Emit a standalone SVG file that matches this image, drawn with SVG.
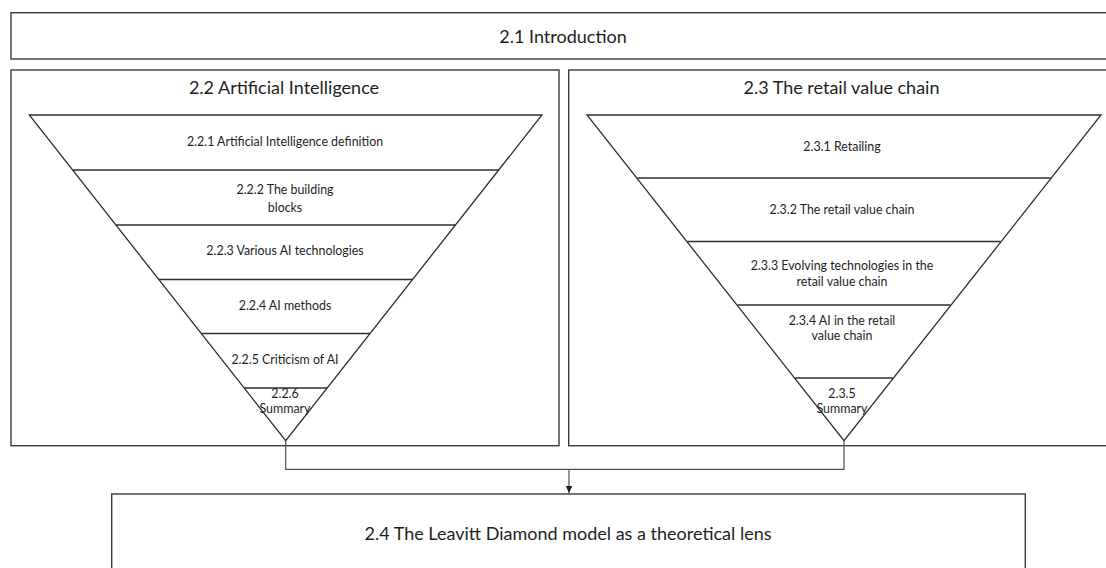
<svg xmlns="http://www.w3.org/2000/svg" width="1106" height="568" viewBox="0 0 1106 568">
  <style>
    .box { fill: #ffffff; stroke: #3a3a3a; stroke-width: 1.4; }
    .funnel { fill: #ffffff; stroke: #2e2e2e; stroke-width: 1.3; stroke-linejoin: miter; }
    .band { stroke: #2e2e2e; stroke-width: 1.3; }
    .link { fill: none; stroke: #505050; stroke-width: 1.2; }
    text { font-family: Lato, "Noto Sans", "Liberation Sans", sans-serif; fill: #1e1e1e; text-anchor: middle; dominant-baseline: central; }
    .title { font-size: 18px; }
    .item { font-size: 12.4px; }
  </style>
  <defs>
    <marker id="arrowhead" markerWidth="8" markerHeight="8" refX="7" refY="4" orient="auto" markerUnits="userSpaceOnUse">
      <path d="M0,0.8 L7,4 L0,7.2 Z" fill="#1e1e1e"/>
    </marker>
  </defs>

  <rect width="1106" height="568" fill="#ffffff"/>

  <!-- Section 2.1 -->
  <g id="intro">
    <rect class="box" x="11" y="12.7" width="1110" height="46.3"/>
    <text class="title" x="563" y="36">2.1 Introduction</text>
  </g>

  <!-- Section 2.2 with its funnel of subsections -->
  <g id="artificial-intelligence">
    <rect class="box" x="11" y="70" width="548" height="375.7"/>
    <text class="title" x="284" y="87">2.2 Artificial Intelligence</text>
    <polygon class="funnel" points="29.3,115 542,115 285.7,440.7"/>
    <line class="band" x1="72.6" y1="170" x2="498.8" y2="170"/>
    <line class="band" x1="115.9" y1="225" x2="455.5" y2="225"/>
    <line class="band" x1="158.8" y1="279.5" x2="412.6" y2="279.5"/>
    <line class="band" x1="201.3" y1="333.5" x2="370.1" y2="333.5"/>
    <line class="band" x1="244.2" y1="388" x2="327.2" y2="388"/>
    <text class="item" x="285" y="141">2.2.1 Artificial Intelligence definition</text>
    <text class="item" x="285" y="189">2.2.2 The building</text>
    <text class="item" x="285" y="207">blocks</text>
    <text class="item" x="285" y="250">2.2.3 Various AI technologies</text>
    <text class="item" x="285" y="305">2.2.4 AI methods</text>
    <text class="item" x="285" y="359">2.2.5 Criticism of AI</text>
    <text class="item" x="285" y="393">2.2.6</text>
    <text class="item" x="285" y="408">Summary</text>
  </g>

  <!-- Section 2.3 with its funnel of subsections -->
  <g id="retail-value-chain">
    <rect class="box" x="568.7" y="70" width="552" height="375.7"/>
    <text class="title" x="841.5" y="87">2.3 The retail value chain</text>
    <polygon class="funnel" points="587,115 1101,115 844,440.7"/>
    <line class="band" x1="637.3" y1="178" x2="1050.7" y2="178"/>
    <line class="band" x1="687.4" y1="241.5" x2="1000.6" y2="241.5"/>
    <line class="band" x1="737.5" y1="305" x2="950.5" y2="305"/>
    <line class="band" x1="795.1" y1="378" x2="892.9" y2="378"/>
    <text class="item" x="842" y="146">2.3.1 Retailing</text>
    <text class="item" x="842" y="209">2.3.2 The retail value chain</text>
    <text class="item" x="842" y="265">2.3.3 Evolving technologies in the</text>
    <text class="item" x="842" y="281">retail value chain</text>
    <text class="item" x="842" y="320">2.3.4 AI in the retail</text>
    <text class="item" x="842" y="335">value chain</text>
    <text class="item" x="842" y="393">2.3.5</text>
    <text class="item" x="842" y="408">Summary</text>
  </g>

  <!-- Section 2.4 -->
  <g id="leavitt-diamond">
    <rect class="box" x="111.7" y="494" width="913.6" height="90"/>
    <text class="title" x="568" y="533">2.4 The Leavitt Diamond model as a theoretical lens</text>
  </g>

  <!-- Connectors -->
  <g id="connectors">
    <polyline class="link" points="285.7,440.7 285.7,469.3 844,469.3 844,440.7"/>
    <line class="link" x1="569" y1="469.3" x2="569" y2="493" marker-end="url(#arrowhead)"/>
  </g>
</svg>
